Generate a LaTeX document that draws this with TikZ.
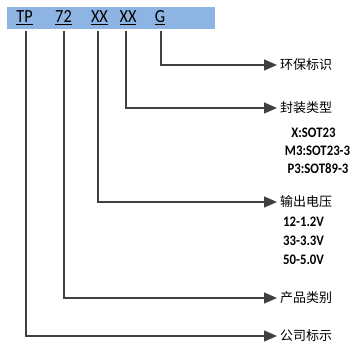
\documentclass[tikz,border=0pt]{standalone}
\usepackage{fontspec}
\setmainfont{Carlito}
\newfontfamily\cjk{Noto Sans CJK SC}
\usetikzlibrary{arrows.meta}
\definecolor{barblue}{HTML}{8EB4E3}
\definecolor{linegray}{HTML}{404040}
\newcommand{\narrow}[1]{\scalebox{0.88}[1]{#1}}
\tikzset{
  conn/.style={draw=linegray, line width=1.4pt, -{Triangle[length=13pt,width=11pt]}},
  code/.style={font=\fontsize{18.5}{19}\selectfont, inner sep=0pt, anchor=base, text=black},
  lbl/.style={font=\cjk\fontsize{13}{14}\selectfont, anchor=west, inner xsep=3pt, inner ysep=0pt},
  sub/.style={font=\bfseries\fontsize{14.5}{15}\selectfont, inner sep=0pt},
}
\begin{document}
\begin{tikzpicture}[x=1pt,y=-1pt]
\useasboundingbox (0,0) rectangle (354,344);
\fill[barblue] (7,7) rectangle (215,29);
\node[code] (tp) at (24.5,23) {\narrow{\underline{TP}}};
\node[code] (c72) at (63.5,23) {\narrow{\underline{72}}};
\node[code] (xx1) at (99.5,23) {\narrow{\underline{XX}}};
\node[code] (xx2) at (128,23) {\narrow{\underline{XX}}};
\node[code] (g) at (160,23) {\narrow{\underline{G}}};
\coordinate (s1) at (26,31);
\coordinate (s2) at (64,31);
\coordinate (s3) at (98,31);
\coordinate (s4) at (126,31);
\coordinate (s5) at (161,31);
\node[lbl] (l5) at (277,65) {环保标识};
\node[lbl] (l4) at (277,108) {封装类型};
\node[lbl] (l3) at (277,202) {输出电压};
\node[lbl] (l2) at (277,298) {产品类别};
\node[lbl] (l1) at (277,336) {公司标示};
\node[sub] (p1) at (313.5,133) {\narrow{X:SOT23}};
\node[sub] (p2) at (317.5,151) {\narrow{M3:SOT23-3}};
\node[sub] (p3) at (318,169) {\narrow{P3:SOT89-3}};
\node[sub, anchor=west] (v1) at (283,222) {\narrow{12-1.2V}};
\node[sub, anchor=west] (v2) at (283,241) {\narrow{33-3.3V}};
\node[sub, anchor=west] (v3) at (283,260) {\narrow{50-5.0V}};
\draw[conn] (s5) |- (l5.west);
\draw[conn] (s4) |- (l4.west);
\draw[conn] (s3) |- (l3.west);
\draw[conn] (s2) |- (l2.west);
\draw[conn] (s1) |- (l1.west);
\end{tikzpicture}
\end{document}
